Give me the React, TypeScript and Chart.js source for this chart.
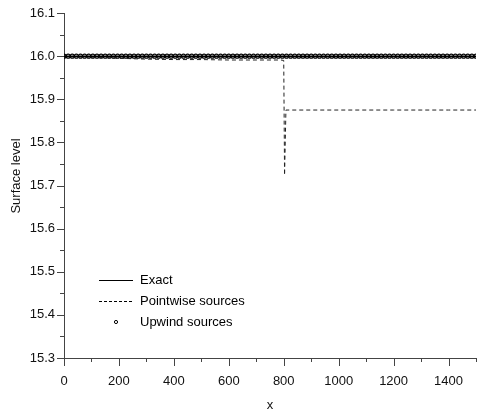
import React, { useEffect, useRef } from "react";
import { Chart, registerables } from "chart.js";

Chart.register(...registerables);

const exactX = [0, 1500];
const exactY = [16.0, 16.0];

const pointwiseX = [0, 100, 200, 300, 400, 500, 600, 700, 790, 800, 803, 808, 900, 1000, 1100, 1200, 1300, 1400, 1500];
const pointwiseY = [15.999, 15.998, 15.995, 15.993, 15.992, 15.992, 15.991, 15.991, 15.991, 15.99, 15.724, 15.875, 15.875, 15.875, 15.875, 15.875, 15.875, 15.875, 15.875];

const upwindX: number[] = [];
for (let i = 0; i <= 100; i++) upwindX.push(i * 15);
const upwindY = upwindX.map(() => 16.0);

const xTicks = [0, 200, 400, 600, 800, 1000, 1200, 1400];
const xMinorTicks = [100, 300, 500, 700, 900, 1100, 1300, 1500];
const yTicks = [15.3, 15.4, 15.5, 15.6, 15.7, 15.8, 15.9, 16.0, 16.1];
const yMinorTicks = [15.35, 15.45, 15.55, 15.65, 15.75, 15.85, 15.95, 16.05];

const legendLabels = ["Exact", "Pointwise sources", "Upwind sources"];

const FONT = "Liberation Sans, Arial, sans-serif";
const AXIS_COLOR = "#444";

const toPts = (xs: number[], ys: number[]) => xs.map((x, i) => ({ x, y: ys[i] }));

const decorPlugin = {
  id: "decor",
  afterDraw(chart: any) {
    const { ctx, scales, chartArea } = chart;
    const xs = scales.x;
    const ys = scales.y;
    ctx.save();
    ctx.strokeStyle = AXIS_COLOR;
    ctx.lineWidth = 1;
    ctx.beginPath();
    for (const v of yTicks) {
      const p = Math.round(ys.getPixelForValue(v)) + 0.5;
      ctx.moveTo(chartArea.left - 7, p);
      ctx.lineTo(chartArea.left, p);
    }
    for (const v of yMinorTicks) {
      const p = Math.round(ys.getPixelForValue(v)) + 0.5;
      ctx.moveTo(chartArea.left - 4, p);
      ctx.lineTo(chartArea.left, p);
    }
    for (const v of xTicks) {
      const p = Math.round(xs.getPixelForValue(v)) + 0.5;
      ctx.moveTo(p, chartArea.bottom);
      ctx.lineTo(p, chartArea.bottom + 8);
    }
    for (const v of xMinorTicks) {
      const p = Math.round(xs.getPixelForValue(v)) + 0.5;
      ctx.moveTo(p, chartArea.bottom);
      ctx.lineTo(p, chartArea.bottom + 4);
    }
    ctx.stroke();

    ctx.fillStyle = "#111";
    ctx.font = `13px ${FONT}`;
    ctx.textAlign = "center";
    ctx.textBaseline = "middle";
    ctx.fillText("x", (chartArea.left + chartArea.right) / 2, 405);
    ctx.save();
    ctx.translate(16, 176);
    ctx.rotate(-Math.PI / 2);
    ctx.fillText("Surface level", 0, 0);
    ctx.restore();

    const lx1 = 99, lx2 = 133, tx = 140;
    const rows = [280, 301, 322];
    ctx.textAlign = "left";
    ctx.strokeStyle = "#000";
    ctx.lineWidth = 1;
    ctx.beginPath();
    ctx.moveTo(lx1, rows[0] + 0.5);
    ctx.lineTo(lx2, rows[0] + 0.5);
    ctx.stroke();
    ctx.setLineDash([3, 2]);
    ctx.beginPath();
    ctx.moveTo(lx1, rows[1] + 0.5);
    ctx.lineTo(lx2, rows[1] + 0.5);
    ctx.stroke();
    ctx.setLineDash([]);
    ctx.beginPath();
    ctx.arc((lx1 + lx2) / 2, rows[2], 1.6, 0, Math.PI * 2);
    ctx.stroke();
    ctx.fillStyle = "#000";
    legendLabels.forEach((t, i) => ctx.fillText(t, tx, rows[i]));
    ctx.restore();
  },
};

export default function App() {
  const ref = useRef<HTMLCanvasElement | null>(null);
  useEffect(() => {
    if (!ref.current) return;
    const chart = new Chart(ref.current, {
      type: "scatter",
      data: {
        datasets: [
          {
            label: legendLabels[0],
            data: toPts(exactX, exactY),
            showLine: true,
            borderColor: "#000",
            borderWidth: 1.5,
            pointRadius: 0,
          },
          {
            label: legendLabels[1],
            data: toPts(pointwiseX, pointwiseY),
            showLine: true,
            borderColor: "#222",
            borderWidth: 1,
            borderDash: [4, 3],
            pointRadius: 0,
          },
          {
            label: legendLabels[2],
            data: toPts(upwindX, upwindY),
            showLine: false,
            borderColor: "#000",
            backgroundColor: "#fff",
            pointBorderColor: "#000",
            pointBackgroundColor: "rgba(255,255,255,0)",
            pointBorderWidth: 1.1,
            pointRadius: 2,
          },
        ],
      },
      options: {
        animation: false,
        responsive: false,
        maintainAspectRatio: false,
        layout: { autoPadding: false, padding: { top: 13, right: 1, left: 0, bottom: 0 } },
        plugins: { legend: { display: false }, tooltip: { enabled: false } },
        scales: {
          x: {
            type: "linear",
            min: 0,
            max: 1500,
            afterFit: (s: any) => { s.height = 59; s.paddingRight = 0; s.paddingLeft = 0; },
            afterBuildTicks: (s: any) => { s.ticks = xTicks.map((v) => ({ value: v })); },
            grid: { display: true, drawOnChartArea: false, color: "transparent", tickLength: 8 },
            border: { display: true, color: AXIS_COLOR, width: 1 },
            ticks: { color: "#111", font: { family: FONT, size: 13 }, padding: 8, maxRotation: 0, callback: (v: any) => String(v) },
          },
          y: {
            type: "linear",
            min: 15.3,
            max: 16.1,
            afterFit: (s: any) => { s.width = 64; s.paddingTop = 0; s.paddingBottom = 0; },
            afterBuildTicks: (s: any) => { s.ticks = yTicks.map((v) => ({ value: v })); },
            grid: { display: true, drawOnChartArea: false, color: "transparent", tickLength: 7 },
            border: { display: true, color: AXIS_COLOR, width: 1 },
            ticks: { color: "#111", font: { family: FONT, size: 13 }, padding: 2, callback: (v: any) => Number(v).toFixed(1) },
          },
        },
      },
      plugins: [decorPlugin],
    });
    return () => chart.destroy();
  }, []);
  return (
    <div style={{ position: "fixed", left: 0, top: 0, width: 477, height: 417, background: "#fff" }}>
      <canvas ref={ref} width={477} height={417} style={{ width: 477, height: 417 }} />
    </div>
  );
}
